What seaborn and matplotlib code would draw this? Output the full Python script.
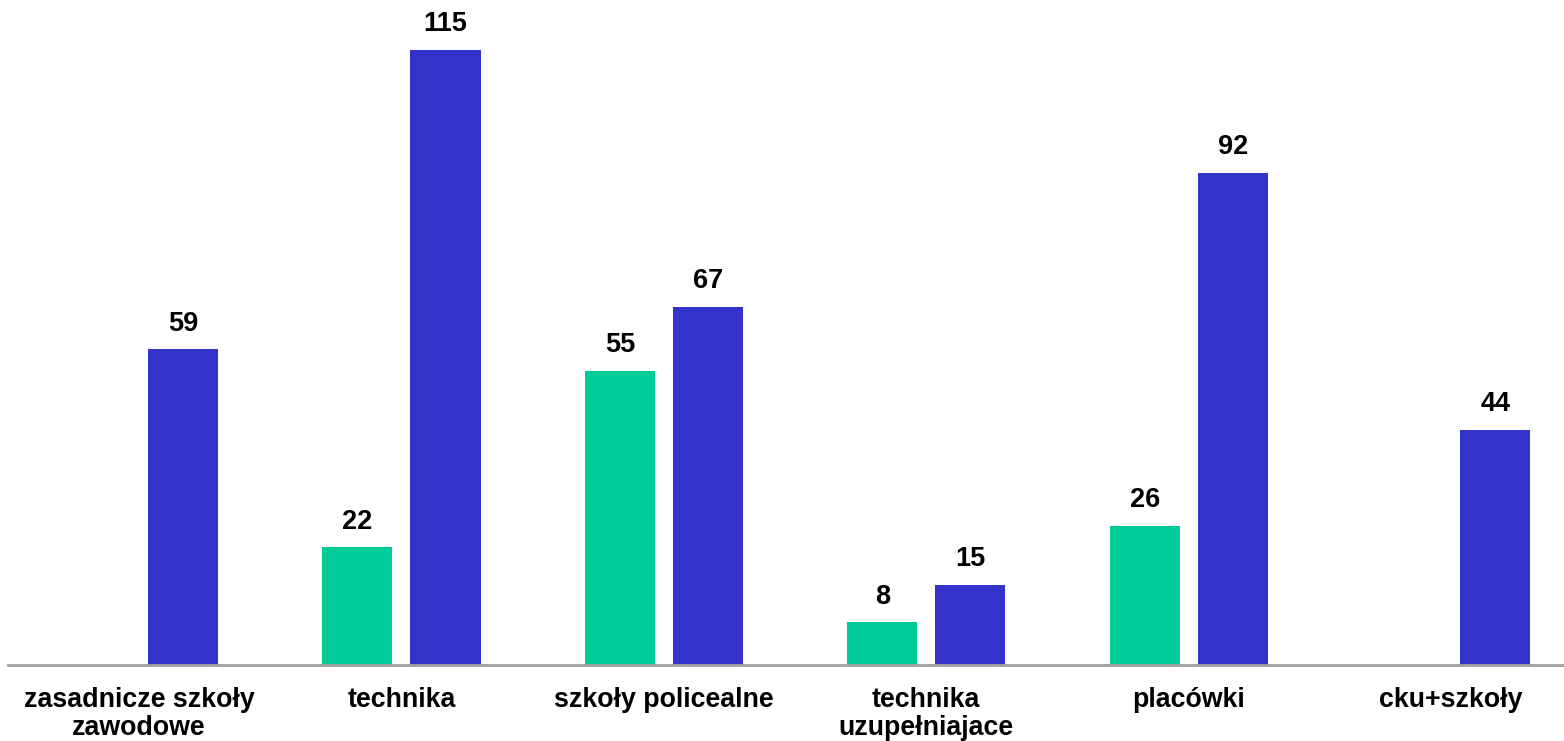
import numpy as np
import pandas as pd
import matplotlib.pyplot as plt
import seaborn as sns

# Values
categories = ['zasadnicze szkoły\nzawodowe', 'technika', 'szkoły policealne',
              'technika\nuzupełniajace', 'placówki', 'cku+szkoły']
series_green = [np.nan, 22, 55, 8, 26, np.nan]
series_blue = [59, 115, 67, 15, 92, 44]
series_names = ['A', 'B']
colors = ['#00CC99', '#3333CC']

df = pd.DataFrame({
    'category': categories * 2,
    'series': [series_names[0]] * len(categories) + [series_names[1]] * len(categories),
    'value': series_green + series_blue,
})

sns.set_style('white')
plt.rcParams['font.family'] = ['Liberation Sans', 'DejaVu Sans']
plt.rcParams['text.color'] = 'black'
plt.rcParams['xtick.color'] = 'black'

fig = plt.figure(figsize=(15.64, 7.41), dpi=100)
ax = fig.add_axes([0.005, 0.1026, 0.995, 0.8974])

sns.barplot(data=df, x='category', y='value', hue='series', order=categories,
            hue_order=series_names, palette=colors, width=0.672, gap=0.2045,
            saturation=1, legend=False, ax=ax, errorbar=None, linewidth=0)

for c in ax.containers:
    ax.bar_label(c, fmt='{:.0f}', padding=9, fontsize=19.5, fontweight='bold',
                 color='black')

ax.set_xlim(-0.5, 5.43)
ax.set_ylim(0, 124.3)
ax.set_xlabel('')
ax.set_ylabel('')
ax.set_yticks([])
ax.tick_params(axis='x', length=0, pad=16, labelsize=19.3, labelcolor='black')
for lbl in ax.get_xticklabels():
    lbl.set_fontweight('bold')
    lbl.set_linespacing(1.1)

for s in ['top', 'right', 'left']:
    ax.spines[s].set_visible(False)
ax.spines['bottom'].set_color('#A0A0A0')
ax.spines['bottom'].set_linewidth(2)

fig.savefig('out.png', dpi=100)
